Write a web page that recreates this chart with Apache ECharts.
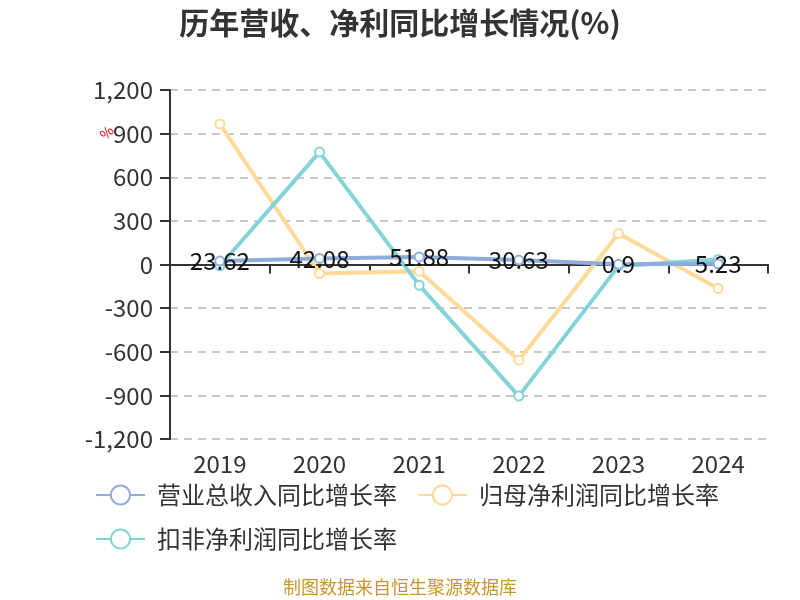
<!DOCTYPE html>
<html><head><meta charset="utf-8">
<script src="https://cdn.jsdelivr.net/npm/echarts@6/dist/echarts.min.js"></script>
<style>html,body{margin:0;padding:0;background:#fff}#c{width:800px;height:600px}</style>
</head><body><div id="c"></div>
<script>
var categories = ['2019','2020','2021','2022','2023','2024'];
var revenueGrowth = [23.62, 42.08, 51.88, 30.63, 0.9, 5.23];
var netProfitGrowth = [967, -62, -46, -658, 213, -165];
var deductedProfitGrowth = [-10, 773, -142, -905, -11, 34];
var yTicks = [-1200, -900, -600, -300, 0, 300, 600, 900, 1200];

var FONT = '"Noto Sans CJK SC", "Noto Sans", sans-serif';
var chart = echarts.init(document.getElementById('c'));
chart.setOption({
  animation: false,
  textStyle: {fontFamily: FONT},
  title: {
    text: '历年营收、净利同比增长情况(%)', left: 'center', top: 3,
    textStyle: {fontSize: 30, fontWeight: 'bold', color: '#333', fontFamily: FONT}
  },
  grid: {left: 170, right: 32, top: 90, bottom: 161},
  legend: {
    left: 90, top: 478, width: 680, itemWidth: 49, itemHeight: 24, itemGap: 20,
    textStyle: {fontSize: 24, color: '#333', fontFamily: FONT, padding: [0, 4, 0, 7]},
    data: ['营业总收入同比增长率', '归母净利润同比增长率', '扣非净利润同比增长率']
  },
  xAxis: [{
    type: 'category', data: categories, position: 'bottom',
    axisLine: {show: false, onZero: false}, axisTick: {show: false},
    axisLabel: {fontSize: 24, color: '#333', margin: 13, fontFamily: FONT}
  }, {
    type: 'category', data: categories, position: 'bottom',
    axisLine: {show: true, onZero: true, lineStyle: {color: '#333', width: 2}},
    axisTick: {show: true, length: 9, lineStyle: {color: '#333', width: 2}},
    axisLabel: {show: false}
  }],
  yAxis: {
    type: 'value', min: yTicks[0], max: yTicks[yTicks.length - 1], interval: 300,
    axisLine: {show: true, lineStyle: {color: '#333', width: 2}},
    axisTick: {show: true, length: 10, lineStyle: {color: '#333', width: 2}},
    axisLabel: {fontSize: 24, color: '#333', margin: 17, fontFamily: FONT,
      formatter: function (v) { return v.toLocaleString('en-US'); }},
    splitLine: {show: true, lineStyle: {color: '#c8c8c8', type: [8, 6], width: 2}}
  },
  graphic: [{
    type: 'text', left: 97, top: 123, rotation: Math.PI / 4,
    style: {text: '%', fill: '#e00', fontSize: 14, fontFamily: FONT}
  }, {
    type: 'text', left: 'center', top: 578,
    style: {text: '制图数据来自恒生聚源数据库', fill: '#c8962c', fontSize: 18, fontFamily: FONT}
  }],
  series: [{
    name: '营业总收入同比增长率', type: 'line', data: revenueGrowth,
    symbol: 'emptyCircle', symbolSize: 9, z: 3,
    itemStyle: {color: '#8eacdc'}, lineStyle: {width: 4, color: '#8eacdc'},
    label: {show: true, position: 'inside', color: '#111', fontSize: 24, fontFamily: FONT}
  }, {
    name: '归母净利润同比增长率', type: 'line', data: netProfitGrowth,
    symbol: 'emptyCircle', symbolSize: 9, z: 2,
    itemStyle: {color: '#ffd996'}, lineStyle: {width: 4, color: '#ffd996'}
  }, {
    name: '扣非净利润同比增长率', type: 'line', data: deductedProfitGrowth,
    symbol: 'emptyCircle', symbolSize: 9, z: 2,
    itemStyle: {color: '#84d3d7'}, lineStyle: {width: 4, color: '#84d3d7'}
  }]
});
</script></body></html>
